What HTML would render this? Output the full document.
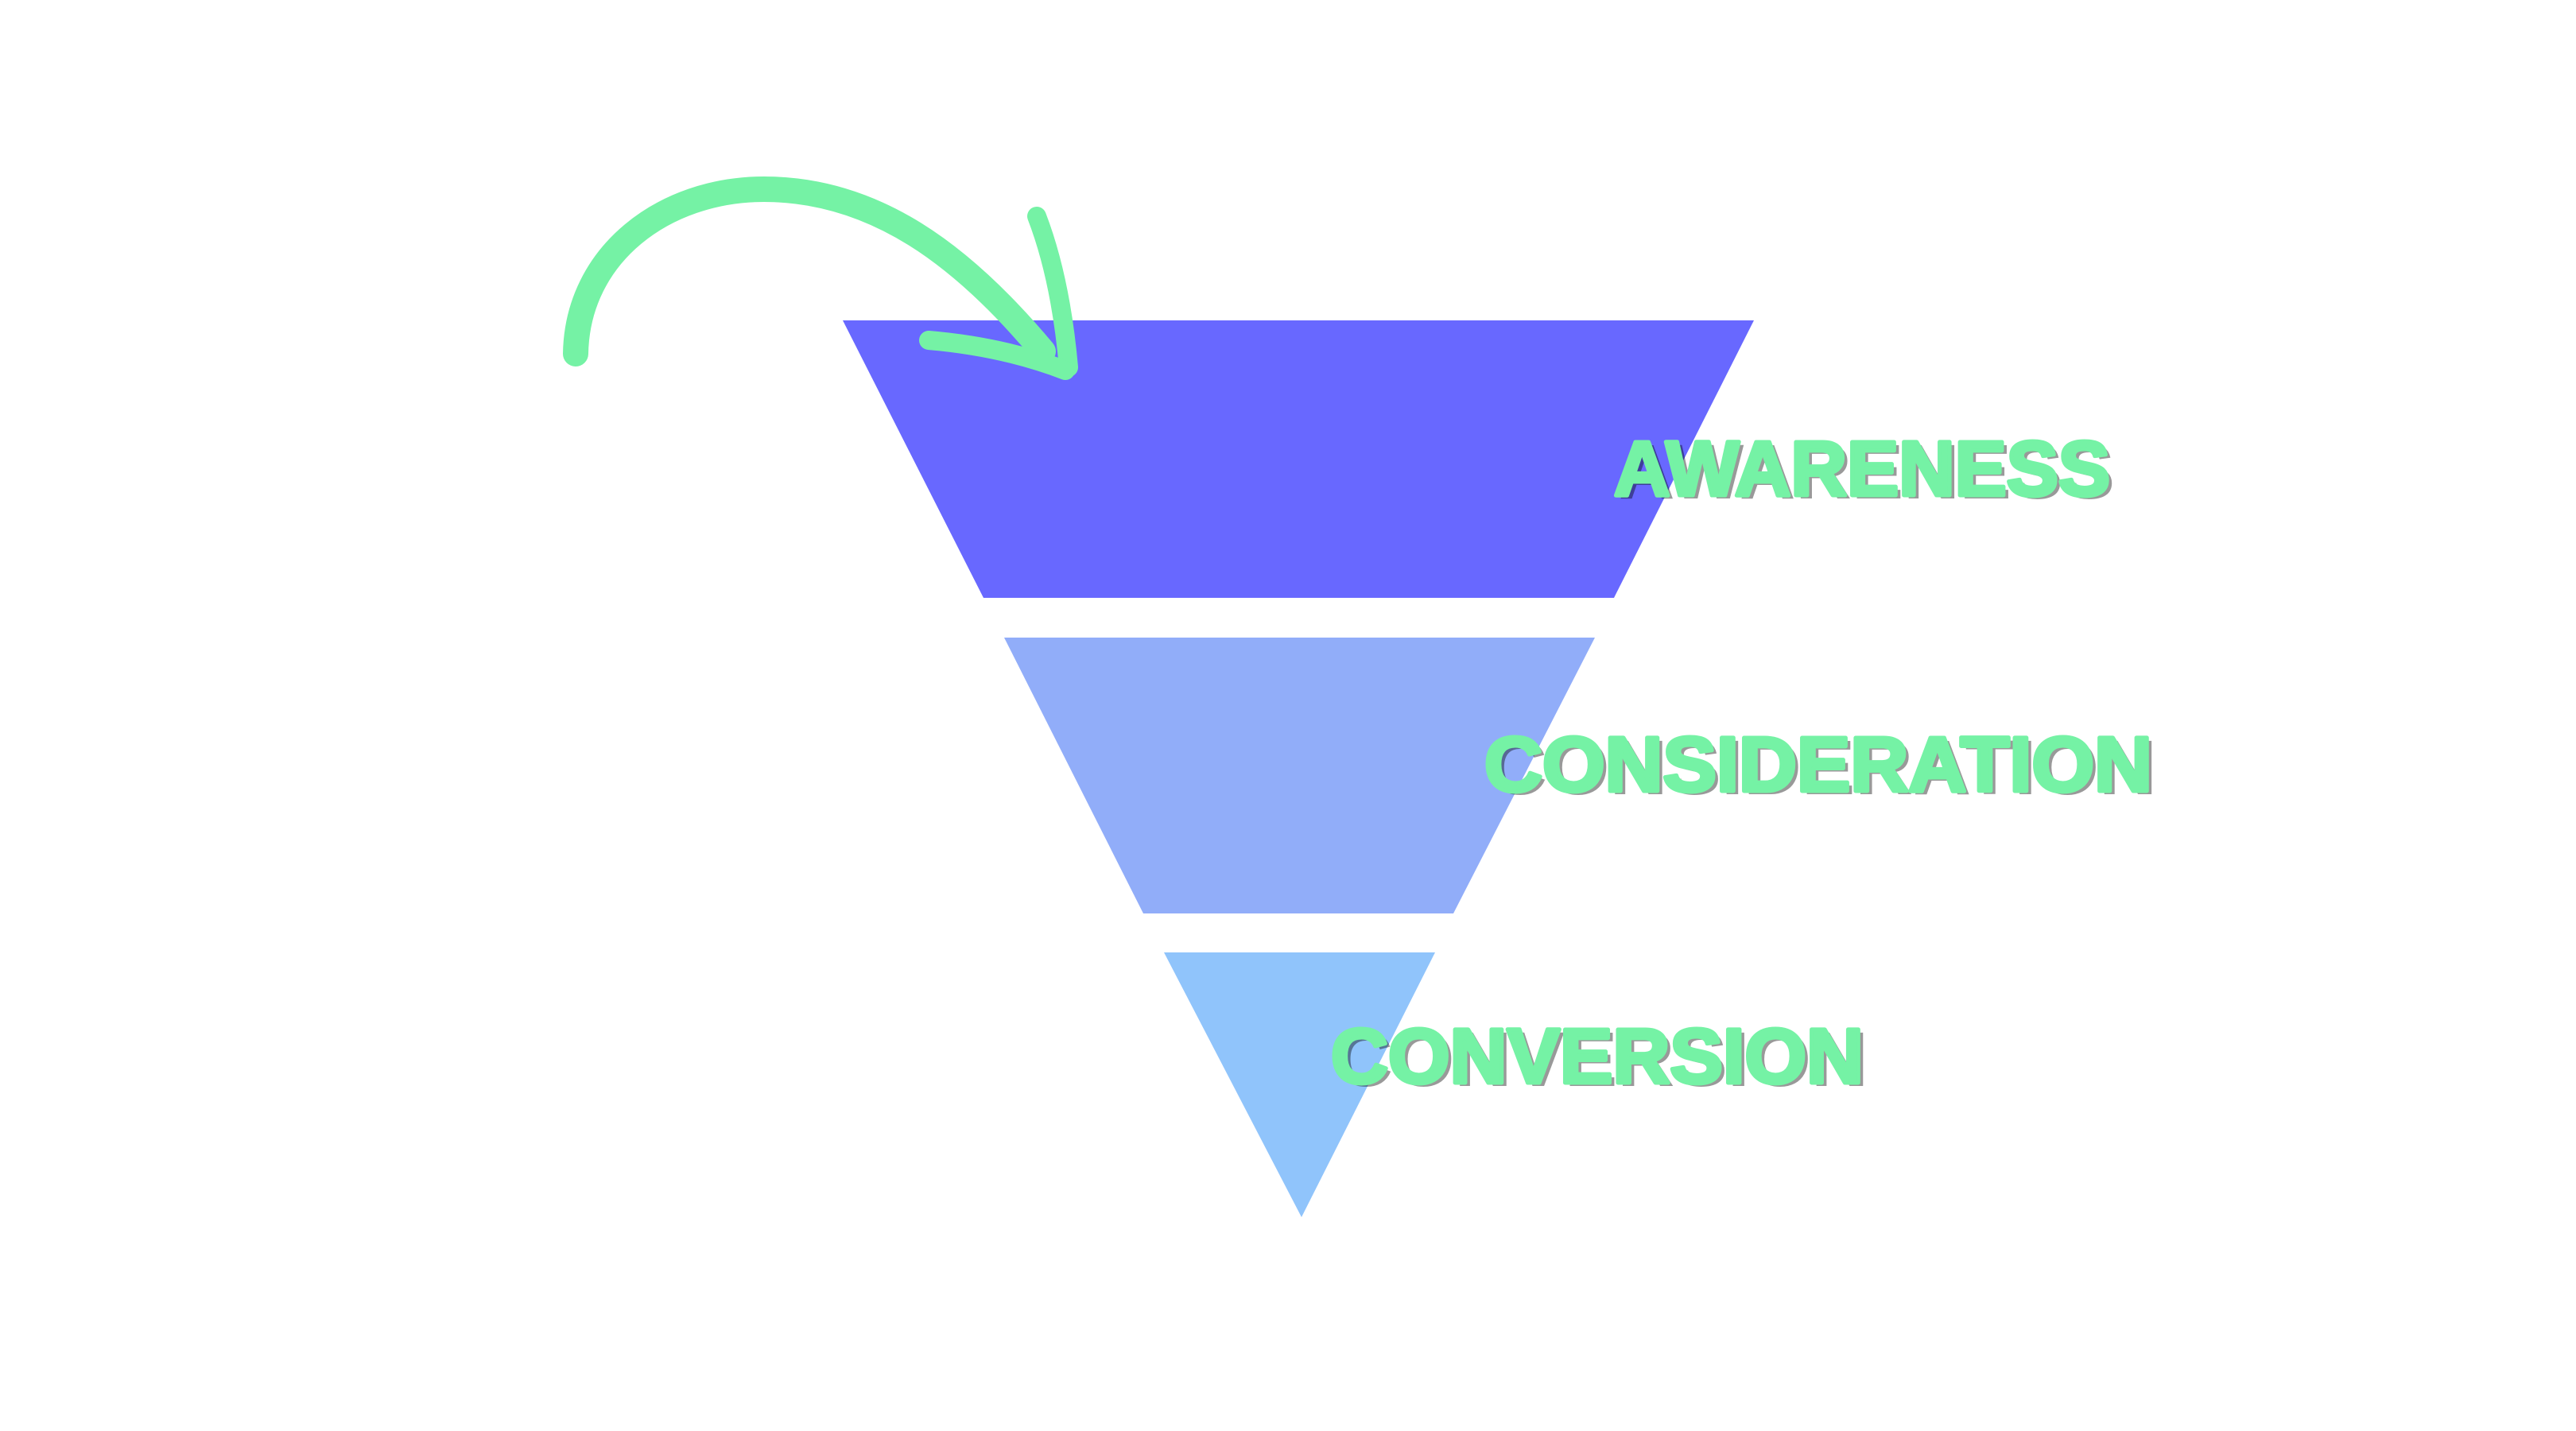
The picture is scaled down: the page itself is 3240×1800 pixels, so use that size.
<!DOCTYPE html>
<html><head><meta charset="utf-8"><style>
html,body{margin:0;padding:0;background:#fff;}
svg{display:block;}
text{font-family:"Liberation Sans",sans-serif;font-weight:bold;}
</style></head><body>
<svg width="3240" height="1800" viewBox="0 0 3240 1800" xmlns="http://www.w3.org/2000/svg">
<rect width="3240" height="1800" fill="#fff"/>
<polygon points="1060,403 2206,403 2030,752 1237,752" fill="#6868FF"/>
<polygon points="1263,802 2006,802 1828,1149 1438,1149" fill="#91ADF9"/>
<polygon points="1464,1198 1805,1198 1637,1531" fill="#90C4FB"/>
<g fill="none" stroke="#75F2A5" stroke-linecap="round">
<path d="M724,445 C726,320 835,238 961,238 C1100,238 1210,320 1312,442" stroke-width="32"/>
<path d="M1304,272 Q1334,350 1344,462" stroke-width="24"/>
<path d="M1168,428 Q1262,436 1340,466" stroke-width="24"/>
</g>
<g font-size="97" stroke-width="5" stroke-linejoin="round">
<text x="2036" y="627" fill="rgba(0,0,0,0.4)" stroke="rgba(0,0,0,0)" textLength="624" lengthAdjust="spacingAndGlyphs">AWARENESS</text>
<text x="2030" y="623" fill="#75F2A5" stroke="#75F2A5" textLength="624" lengthAdjust="spacingAndGlyphs">AWARENESS</text>
<text x="1873" y="999" fill="rgba(0,0,0,0.4)" textLength="840" lengthAdjust="spacingAndGlyphs">CONSIDERATION</text>
<text x="1867" y="995" fill="#75F2A5" stroke="#75F2A5" textLength="840" lengthAdjust="spacingAndGlyphs">CONSIDERATION</text>
<text x="1680" y="1366" fill="rgba(0,0,0,0.4)" textLength="670" lengthAdjust="spacingAndGlyphs">CONVERSION</text>
<text x="1674" y="1362" fill="#75F2A5" stroke="#75F2A5" textLength="670" lengthAdjust="spacingAndGlyphs">CONVERSION</text>
</g>
</svg>
</body></html>
